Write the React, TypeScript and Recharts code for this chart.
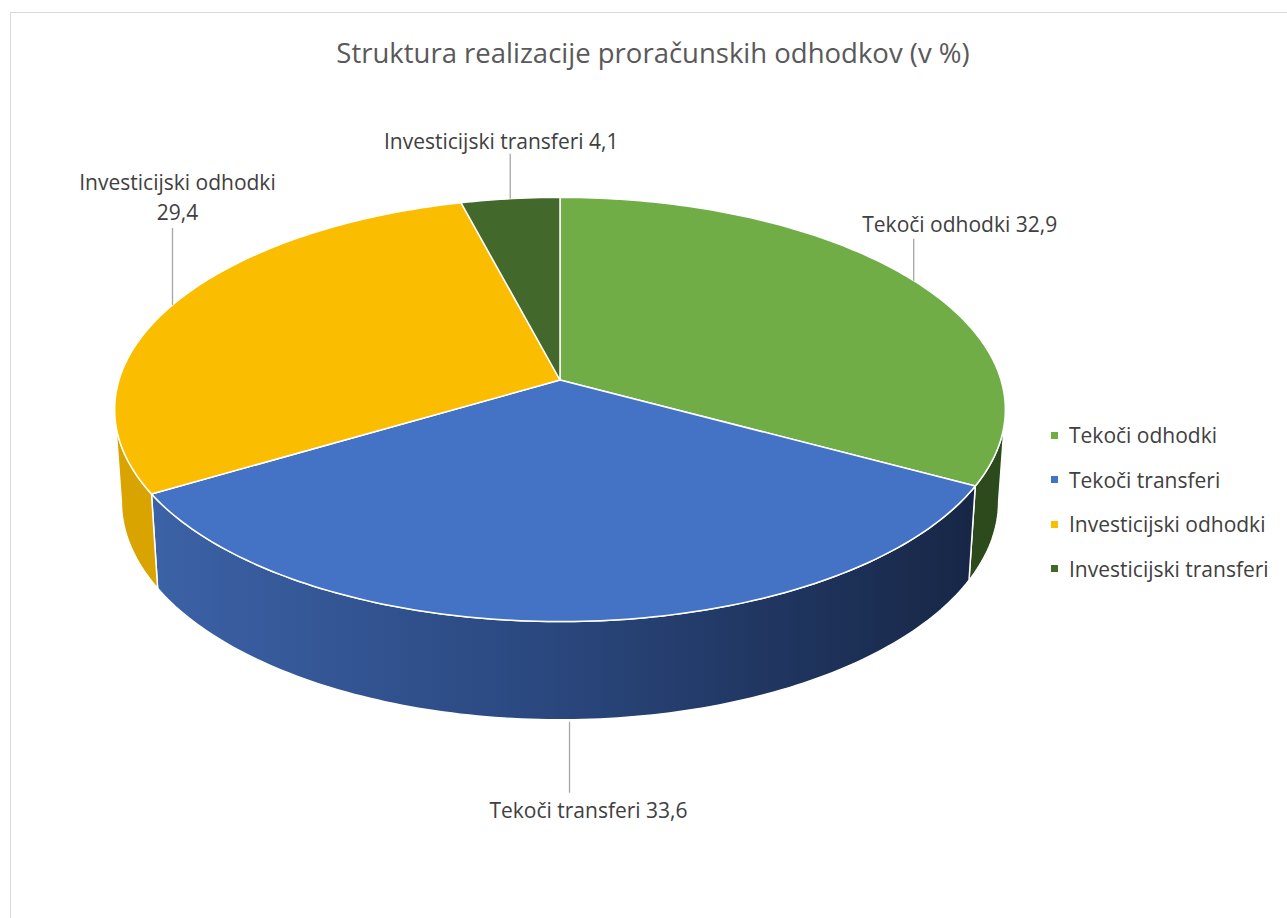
import React from "react";
import { PieChart, Pie, Cell, Legend } from "recharts";

// podatki
const categories = [
  "Tekoči odhodki",
  "Tekoči transferi",
  "Investicijski odhodki",
  "Investicijski transferi",
];
const shares = [32.9, 33.6, 29.4, 4.1];

const topColors = ["#70AD47", "#4472C4", "#FBBD00", "#43682B"];
const wallColors = ["#2D4A1C", "url(#wallBlue)", "#D9A300", "#2A4219"];

const data = categories.map((name, i) => ({ name, value: shares[i] }));

// 3D projekcija
const RY_RATIO = 208 / 441;
const PERSP = 0.139;
const DEPTH = 91;
const BOTTOM_Y = 1.03;
const BOTTOM_X = 0.985;
const FONT = "'Open Sans', sans-serif";
const LABEL_SIZE = 21;

const RAD = Math.PI / 180;

function proj(cx: number, cy: number, r: number, a: number) {
  const u = Math.cos(a * RAD);
  const v = -Math.sin(a * RAD);
  const p = 1 / (1 - PERSP * v);
  return { x: cx + r * u * p, y: cy + r * RY_RATIO * v * p };
}

function projBottom(cx: number, cy: number, r: number, a: number) {
  const t = proj(cx, cy, r, a);
  return { x: cx + (t.x - cx) * BOTTOM_X, y: cy + DEPTH + (t.y - cy) * BOTTOM_Y };
}

function arcPoints(from: number, to: number) {
  const n = Math.max(2, Math.ceil(Math.abs(to - from)) + 1);
  const out: number[] = [];
  for (let k = 0; k < n; k++) out.push(from + ((to - from) * k) / (n - 1));
  return out;
}

function Slice3D(props: any) {
  const { cx, cy, outerRadius, startAngle, endAngle } = props;
  const name = props.name ?? props.payload?.name;
  const i = categories.indexOf(name);
  const top = arcPoints(startAngle, endAngle).map((a) => proj(cx, cy, outerRadius, a));
  const topPath =
    `M${cx},${cy} ` + top.map((p) => `L${p.x.toFixed(2)},${p.y.toFixed(2)}`).join(" ") + " Z";

  // vidni del stene (sprednja stran)
  const hi = Math.min(Math.max(startAngle, endAngle), -8);
  const lo = Math.max(Math.min(startAngle, endAngle), -172);
  let wallPath = "";
  if (hi > lo) {
    const angs = arcPoints(hi, lo);
    const t = angs.map((a) => proj(cx, cy, outerRadius, a));
    const b = angs.slice().reverse().map((a) => projBottom(cx, cy, outerRadius, a));
    wallPath =
      `M${t[0].x.toFixed(2)},${t[0].y.toFixed(2)} ` +
      t.slice(1).map((p) => `L${p.x.toFixed(2)},${p.y.toFixed(2)}`).join(" ") +
      " " +
      b.map((p) => `L${p.x.toFixed(2)},${p.y.toFixed(2)}`).join(" ") +
      " Z";
  }

  return (
    <g>
      <defs>
        <linearGradient id="wallBlue" gradientUnits="userSpaceOnUse" x1={cx - outerRadius} y1={0} x2={cx + outerRadius * 0.95} y2={0}>
          <stop offset="0%" stopColor="#3D64AA" />
          <stop offset="50%" stopColor="#2A477E" />
          <stop offset="100%" stopColor="#172645" />
        </linearGradient>
      </defs>
      {wallPath && (
        <path d={wallPath} fill={wallColors[i]} stroke="#FFFFFF" strokeWidth={1.5} strokeLinejoin="round" />
      )}
      <path d={topPath} fill={topColors[i]} stroke="#FFFFFF" strokeWidth={1.5} strokeLinejoin="round" />
    </g>
  );
}

// postavitev oznak (odmiki od roba)
const labelLayout = [
  { lineDy: -42, textDx: 46, baseDy: [-49], split: false, front: false },
  { lineDy: 73, textDx: 19, baseDy: [98], split: false, front: true },
  { lineDy: -77, textDx: 5, baseDy: [-115, -85], split: true, front: false },
  { lineDy: -45, textDx: -9, baseDy: [-50], split: false, front: false },
];

function renderLabel(props: any) {
  const { cx, cy, midAngle, outerRadius, name, value } = props;
  const i = categories.indexOf(name);
  const lay = labelLayout[i];
  const p = lay.front ? projBottom(cx, cy, outerRadius, midAngle) : proj(cx, cy, outerRadius, midAngle);
  const txt = `${Number(value).toFixed(1).replace(".", ",")}`;
  const lines = lay.split ? [name, txt] : [`${name} ${txt}`];
  return (
    <g key={`lbl-${i}`}>
      <line x1={p.x} y1={p.y + (lay.front ? 2 : 0)} x2={p.x} y2={p.y + lay.lineDy} stroke="#A6A6A6" strokeWidth={1.3} />
      {lines.map((s, k) => (
        <text
          key={k}
          x={p.x + lay.textDx}
          y={p.y + lay.baseDy[k]}
          textAnchor="middle"
          fontFamily={FONT}
          fontSize={LABEL_SIZE}
          fill="#404040"
        >
          {s}
        </text>
      ))}
    </g>
  );
}

function LegendContent(props: any) {
  const fromPayload =
    props.payload && props.payload.length
      ? props.payload.map((p: any) => ({ name: p.value, color: p.color }))
      : [];
  const items = categories.map((c, i) => {
    const hit = fromPayload.find((p: any) => p.name === c);
    return { name: c, color: hit?.color ?? topColors[i] };
  });
  return (
    <div style={{ fontFamily: FONT, fontSize: LABEL_SIZE, color: "#404040" }}>
      {items.map((it: any) => (
        <div key={it.name} style={{ height: 44.5, display: "flex", alignItems: "center" }}>
          <span style={{ display: "inline-block", width: 7, height: 7, background: it.color, marginRight: 11 }} />
          <span>{it.name}</span>
        </div>
      ))}
    </div>
  );
}

export default function App() {
  return (
    <div style={{ position: "absolute", left: 0, top: 0, width: 1287, height: 918, background: "#FFFFFF", overflow: "hidden" }}>
      <div
        style={{
          position: "absolute",
          left: 10,
          top: 12,
          width: 1400,
          height: 1000,
          border: "1px solid #D9D9D9",
          boxSizing: "border-box",
        }}
      />
      <div
        style={{
          position: "absolute",
          left: 0,
          width: 1306,
          top: 34,
          textAlign: "center",
          fontFamily: FONT,
          fontSize: 27.5,
          lineHeight: "38px",
          color: "#595959",
        }}
      >
        Struktura realizacije proračunskih odhodkov (v %)
      </div>
      <div style={{ position: "absolute", left: 0, top: 0 }}>
        <PieChart width={1287} height={918} margin={{ top: 0, right: 0, bottom: 0, left: 0 }}>
          <Pie
            data={data}
            dataKey="value"
            nameKey="name"
            cx={560}
            cy={380}
            outerRadius={441}
            startAngle={90}
            endAngle={-270}
            stroke="#FFFFFF"
            shape={Slice3D}
            label={renderLabel}
            labelLine={false}
            isAnimationActive={false}
          >
            {data.map((d, i) => (
              <Cell key={d.name} fill={topColors[i]} />
            ))}
          </Pie>
          <Legend
            layout="vertical"
            content={<LegendContent />}
            wrapperStyle={{ position: "absolute", left: 1051, top: 413, width: 236 }}
          />
        </PieChart>
      </div>
    </div>
  );
}
